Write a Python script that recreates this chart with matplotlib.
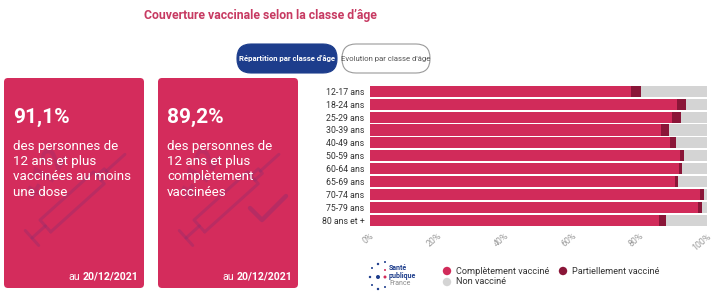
import math
import matplotlib.pyplot as plt
from matplotlib.patches import FancyBboxPatch, Circle

# ==========================================================
# DATA
# ==========================================================
AGE_GROUPS = ["12-17 ans", "18-24 ans", "25-29 ans", "30-39 ans", "40-49 ans",
              "50-59 ans", "60-64 ans", "65-69 ans", "70-74 ans", "75-79 ans",
              "80 ans et +"]
COMPLET = [77.4, 91.1, 89.6, 86.4, 89.1, 91.9, 91.6, 90.5, 98.0, 97.3, 85.8]
PARTIEL = [3.1, 2.7, 2.8, 2.3, 1.7, 1.3, 1.1, 0.9, 1.0, 1.1, 1.9]
XTICKS = [0, 20, 40, 60, 80, 100]

KPI_VALUES = ["91,1%", "89,2%"]
KPI_TEXTS = ["des personnes de\n12 ans et plus\nvaccinées au moins\nune dose",
             "des personnes de\n12 ans et plus\ncomplètement\nvaccinées"]
KPI_DATE = "20/12/2021"

LEGEND_LABELS = ["Complètement vacciné", "Partiellement vacciné", "Non vacciné"]

# ==========================================================
# STYLE
# ==========================================================
plt.rcParams["font.family"] = ["Roboto", "DejaVu Sans"]

COL_FULL = "#d12b5a"
COL_PART = "#8a1638"
COL_NON = "#d4d4d4"
COL_TITLE = "#c73a62"
COL_CARD = "#d42c5c"
COL_BLUE = "#1d3d8c"
COL_WATERMARK = "#8b2c6e"

W, H = 716, 300
fig = plt.figure(figsize=(W / 100, H / 100), dpi=100)
fig.patch.set_facecolor("white")

# background axes in pixel coordinates (origin top-left)
bg = fig.add_axes([0, 0, 1, 1], zorder=0)
bg.set_xlim(0, W)
bg.set_ylim(H, 0)
bg.axis("off")

# Title
bg.text(260, 15, "Couverture vaccinale selon la classe d\u2019âge",
        ha="center", va="center", fontsize=8.8, fontweight="bold",
        color=COL_TITLE)

# Buttons
for x0, x1, label, filled in [(237, 337, "Répartition par classe d'âge", True),
                              (342, 430, "Evolution par classe d'âge", False)]:
    bg.add_patch(FancyBboxPatch(
        (x0, 44), x1 - x0, 29,
        boxstyle="round,pad=0,rounding_size=14",
        fc=COL_BLUE if filled else "white",
        ec=COL_BLUE if filled else "#9a9a9a", lw=0.8))
    bg.text((x0 + x1) / 2, 58.5, label, ha="center", va="center",
            fontsize=5.6, fontweight="bold" if filled else "normal",
            color="white" if filled else "#555555")


# syringe outline used as watermark (local coords u along, v across)
SYRINGE = [
    [(0, -10), (0, 10)],                      # plunger handle
    [(0, 0), (18, 0)],                        # plunger rod
    [(18, -8), (90, -8), (90, 8), (18, 8), (18, -8)],   # body
    [(90, -3), (100, -3), (100, 3), (90, 3)],  # tip
    [(100, 0), (125, 0)],                     # needle
]


def draw_syringe(bx, by, angle):
    ca, sa = math.cos(math.radians(angle)), math.sin(math.radians(angle))
    for seg in SYRINGE:
        xs = [bx + u * ca - v * sa for u, v in seg]
        ys = [by - u * sa - v * ca for u, v in seg]
        bg.plot(xs, ys, color=COL_WATERMARK, alpha=0.35, lw=2.2,
                solid_capstyle="round", solid_joinstyle="round")


# KPI cards
for i, (x0, x1) in enumerate([(4, 144), (158, 298)]):
    bg.add_patch(FancyBboxPatch(
        (x0, 78), x1 - x0, 210,
        boxstyle="round,pad=0,rounding_size=4",
        fc=COL_CARD, ec="none", zorder=1))
    draw_syringe(x0 + 28, 238, 42)
    bg.text(x0 + 42, 175, "+12", ha="center", va="center",
            fontsize=24, fontweight="bold", rotation=60,
            color=COL_WATERMARK, alpha=0.3, zorder=2)
    if i == 1:
        bg.plot([x0 + 92, x0 + 104, x0 + 128], [208, 220, 196],
                color=COL_WATERMARK, alpha=0.4, lw=3.2,
                solid_capstyle="round", solid_joinstyle="round")
    bg.text(x0 + 9, 117, KPI_VALUES[i], ha="left", va="center",
            fontsize=15, fontweight="bold", color="white", zorder=4)
    bg.text(x0 + 9, 140, KPI_TEXTS[i], ha="left", va="top",
            fontsize=9.6, color="white", linespacing=1.22, zorder=4)
    bg.text(x1 - 64, 277, "au", ha="right", va="center",
            fontsize=7.6, color="white", zorder=4)
    bg.text(x1 - 6, 277, KPI_DATE, ha="right", va="center",
            fontsize=7.6, fontweight="bold", color="white", zorder=4)

# ==========================================================
# BAR CHART
# ==========================================================
ax = fig.add_axes([370 / W, 1 - 226 / H, (707 - 370) / W, (226 - 85.7) / H],
                  zorder=2)
y = list(range(len(AGE_GROUPS)))
NON = [100 - c - p for c, p in zip(COMPLET, PARTIEL)]
left_non = [c + p for c, p in zip(COMPLET, PARTIEL)]
bh = 0.853
ax.barh(y, COMPLET, height=bh, color=COL_FULL, lw=0)
ax.barh(y, PARTIEL, left=COMPLET, height=bh, color=COL_PART, lw=0)
ax.barh(y, NON, left=left_non, height=bh, color=COL_NON, lw=0)
ax.set_xlim(0, 100)
ax.set_ylim(len(AGE_GROUPS) - 1 + bh / 2, -bh / 2)
ax.set_yticks(y)
ax.set_yticklabels(AGE_GROUPS, fontsize=6.3, color="#333333")
ax.set_xticks(XTICKS)
ax.set_xticklabels([f"{v}%" for v in XTICKS], rotation=40, ha="right",
                   va="top", fontsize=6.3, color="#999999",
                   rotation_mode="anchor")
ax.tick_params(length=0, pad=4)
ax.patch.set_alpha(0)
for s in ax.spines.values():
    s.set_visible(False)

# ==========================================================
# LEGEND + LOGO
# ==========================================================
for (cx, cy, r, c) in [(372, 268, 1.0, COL_BLUE), (378, 264, 1.2, COL_BLUE),
                       (385, 262, 1.0, COL_BLUE), (370, 277, 1.2, COL_BLUE),
                       (378, 277, 2.0, COL_BLUE), (385, 277, 1.5, COL_FULL),
                       (372, 285, 1.0, COL_BLUE), (378, 289, 1.2, COL_BLUE),
                       (385, 287, 1.0, COL_BLUE), (385, 270, 1.0, COL_FULL)]:
    bg.add_patch(Circle((cx, cy), r, fc=c, ec="none"))
bg.text(389, 267.5, "Santé", fontsize=5, fontweight="bold",
        color=COL_BLUE, va="center")
bg.text(389, 275.5, "publique", fontsize=5, fontweight="bold",
        color=COL_BLUE, va="center")
bg.text(389, 283.5, "France", fontsize=5, color="#8a8a8a", va="center")

legend_pos = [(447, 271), (563, 271), (447, 282)]
legend_cols = [COL_FULL, COL_PART, COL_NON]
for (lx, ly), lab, c in zip(legend_pos, LEGEND_LABELS, legend_cols):
    bg.add_patch(Circle((lx, ly), 4.2, fc=c, ec="none"))
    bg.text(lx + 9, ly, lab, fontsize=6.6, color="#333333",
            ha="left", va="center")

fig.savefig("out.png", dpi=100)
